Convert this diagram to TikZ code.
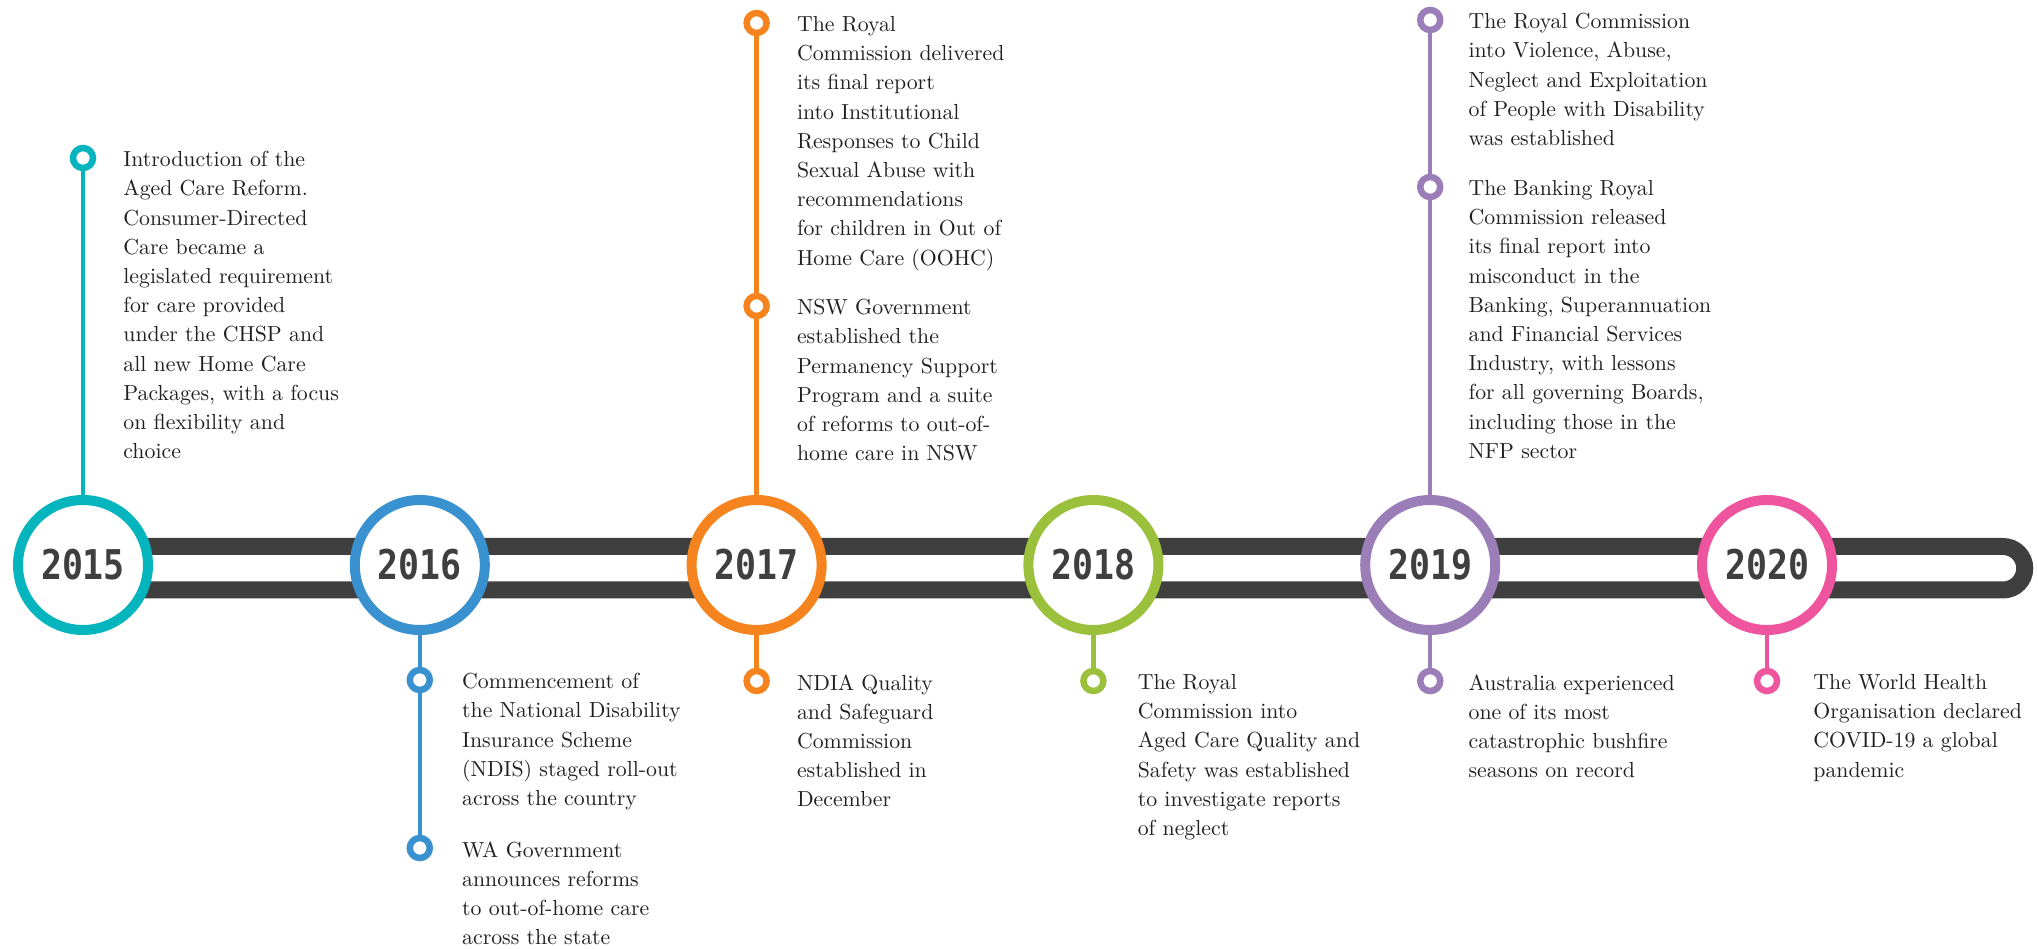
\documentclass[tikz,border=0pt]{standalone}
\usepackage{fontspec}
\newfontfamily\yearfont{DejaVu Sans Mono}
\usetikzlibrary{positioning}
\definecolor{trackgray}{HTML}{3F3F3F}
\definecolor{bodytext}{HTML}{231F20}
\definecolor{yearteal}{HTML}{05B5BE}
\definecolor{yearblue}{HTML}{3A91CF}
\definecolor{yearorange}{HTML}{F5841F}
\definecolor{yeargreen}{HTML}{9BC03B}
\definecolor{yearpurple}{HTML}{9B7DB8}
\definecolor{yearpink}{HTML}{EE559E}
\tikzstyle{track line}=[line width=8.5pt, draw=trackgray]
\tikzstyle{year ring}=[circle, draw, line width=5pt, fill=white, minimum size=65pt, inner sep=0pt, text=trackgray, font=\yearfont\bfseries\fontsize{20.5}{20.5}\selectfont]
\tikzstyle{event dot}=[circle, draw, line width=3.25pt, fill=white, minimum size=10pt, inner sep=0pt]
\tikzstyle{event stem}=[line width=2.25pt]
\tikzstyle{event text}=[align=left, inner sep=0pt, text=bodytext, font=\fontsize{10.9}{14.6}\selectfont]
\newcommand{\yearnode}[3][]{
  \node [year ring, #1] (#2) {\scalebox{0.85}[1]{#3}}
}
\newcommand{\eventdot}[3][]{
  \node [event dot, draw=#3, #1, anchor=center] (#2) {}
}
\newcommand{\eventtext}[3][]{
  \node [event text, #1, anchor=north west] (#2) {#3}
}

\begin{document}
\begin{tikzpicture}[x=0.5pt, y=0.5pt, node distance=98.4pt]
  \useasboundingbox (0,0) rectangle (2038,948);
  % track
  \draw[track line] (83,401.5) -- (2003,401.5) arc[start angle=90, end angle=-90, radius=10.875pt] -- (83,358);

  \yearnode[draw=yearteal, at={(83,383)}]{y2015}{2015};
  \yearnode[draw=yearblue, right=of y2015] {y2016}{2016};
  \yearnode[draw=yearorange, right=of y2016] {y2017}{2017};
  \yearnode[draw=yeargreen, right=of y2017] {y2018}{2018};
  \yearnode[draw=yearpurple, right=of y2018] {y2019}{2019};
  \yearnode[draw=yearpink, right=of y2019] {y2020}{2020};

  \eventdot[above=203.5pt of y2015.center]{d2015a}{yearteal};
  \eventdot[below=57.5pt of y2016.center]{d2016a}{yearblue};
  \eventdot[below=141.5pt of y2016.center]{d2016b}{yearblue};
  \eventdot[above=271pt of y2017.center]{d2017a}{yearorange};
  \eventdot[above=129.5pt of y2017.center]{d2017b}{yearorange};
  \eventdot[below=58pt of y2017.center]{d2017c}{yearorange};
  \eventdot[below=58pt of y2018.center]{d2018a}{yeargreen};
  \eventdot[above=272.5pt of y2019.center]{d2019a}{yearpurple};
  \eventdot[above=189pt of y2019.center]{d2019b}{yearpurple};
  \eventdot[below=58pt of y2019.center]{d2019c}{yearpurple};
  \eventdot[below=58pt of y2020.center]{d2020a}{yearpink};

  \draw[event stem, yearteal] (d2015a) -- (y2015);
  \draw[event stem, yearblue] (y2016) -- (d2016a) -- (d2016b);
  \draw[event stem, yearorange] (d2017a) -- (d2017b) -- (y2017) -- (d2017c);
  \draw[event stem, yeargreen] (y2018) -- (d2018a);
  \draw[event stem, yearpurple] (d2019a) -- (d2019b) -- (y2019) -- (d2019c);
  \draw[event stem, yearpink] (y2020) -- (d2020a);

  \eventtext[above right=3.5pt and 20pt of d2015a.center]{t2015a}{Introduction of the\\Aged Care Reform.\\Consumer-Directed\\Care became a\\legislated requirement\\for care provided\\under the CHSP and\\all new Home Care\\Packages, with a focus\\on flexibility and\\choice};
  \eventtext[above right=3.5pt and 21pt of d2016a.center]{t2016a}{Commencement of\\the National Disability\\Insurance Scheme\\(NDIS) staged roll-out\\across the country};
  \eventtext[above right=3.5pt and 21pt of d2016b.center]{t2016b}{WA Government\\announces reforms\\to out-of-home care\\across the state};
  \eventtext[above right=3.5pt and 20pt of d2017a.center]{t2017a}{The Royal\\Commission delivered\\its final report\\into Institutional\\Responses to Child\\Sexual Abuse with\\recommendations\\for children in Out of\\Home Care (OOHC)};
  \eventtext[above right=3.5pt and 20pt of d2017b.center]{t2017b}{NSW Government\\established the\\Permanency Support\\Program and a suite\\of reforms to out-of-\\home care in NSW};
  \eventtext[above right=3.5pt and 20pt of d2017c.center]{t2017c}{NDIA Quality\\and Safeguard\\Commission\\established in\\December};
  \eventtext[above right=3.5pt and 22pt of d2018a.center]{t2018a}{The Royal\\Commission into\\Aged Care Quality and\\Safety was established\\to investigate reports\\of neglect};
  \eventtext[above right=3.5pt and 19pt of d2019a.center]{t2019a}{The Royal Commission\\into Violence, Abuse,\\Neglect and Exploitation\\of People with Disability\\was established};
  \eventtext[above right=3.5pt and 19pt of d2019b.center]{t2019b}{The Banking Royal\\Commission released\\its final report into\\misconduct in the\\Banking, Superannuation\\and Financial Services\\Industry, with lessons\\for all governing Boards,\\including those in the\\NFP sector};
  \eventtext[above right=3.5pt and 19pt of d2019c.center]{t2019c}{Australia experienced\\one of its most\\catastrophic bushfire\\seasons on record};
  \eventtext[above right=3.5pt and 23pt of d2020a.center]{t2020a}{The World Health\\Organisation declared\\COVID-19 a global\\pandemic};
\end{tikzpicture}
\end{document}
